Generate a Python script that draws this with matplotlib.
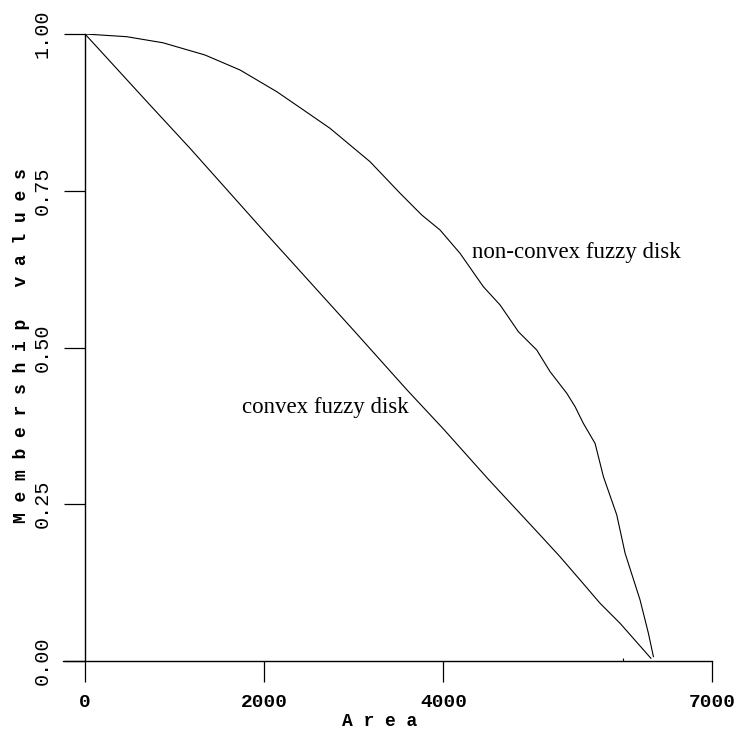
import matplotlib
matplotlib.use("Agg")
import matplotlib.pyplot as plt

# data
nonconvex_area = [0, 465, 870, 1339, 1730, 2140, 2436, 2734, 3181, 3516, 3758, 3962,
                  4185, 4445, 4632, 4836, 5041, 5190, 5376, 5469, 5561, 5692, 5785,
                  5934, 6027, 6194, 6287, 6343]
nonconvex_mu = [1.0, 0.9957, 0.986, 0.9665, 0.9426, 0.908, 0.879, 0.8496, 0.7963, 0.746,
                0.7113, 0.6874, 0.6502, 0.597, 0.5678, 0.5252, 0.4960, 0.4614, 0.427,
                0.4056, 0.379, 0.347, 0.294, 0.2329, 0.1718, 0.0973, 0.0442, 0.0069]

convex_area = [0, 725, 1172, 2000, 3000, 3594, 4000, 4500, 5078, 5301, 5525, 5748, 5971, 6315]
convex_mu = [1.0, 0.8868, 0.8177, 0.685, 0.527, 0.4322, 0.370, 0.290, 0.201, 0.1663,
             0.1292, 0.092, 0.0601, 0.0043]

x_ticks = [0, 2000, 4000, 7000]
x_ticklabels = ["0", "2000", "4000", "7000"]
y_ticks = [0.0, 0.25, 0.5, 0.75, 1.0]
y_ticklabels = ["0.00", "0.25", "0.50", "0.75", "1.00"]

label_nonconvex = "non-convex fuzzy disk"
label_convex = "convex fuzzy disk"

W, H = 737, 733
fig = plt.figure(figsize=(W / 100, H / 100), dpi=100)
ax = fig.add_axes([63.5 / W, 1 - 661 / H, (712.3 - 63.5) / W, (661 - 34) / H])

ax.plot(nonconvex_area, nonconvex_mu, color="black", lw=0.8)
ax.plot(convex_area, convex_mu, color="black", lw=0.8)

ax.set_xlim(-240, 7000)
ax.set_ylim(0, 1)

for s in ["top", "right"]:
    ax.spines[s].set_visible(False)
ax.spines["left"].set_position(("data", 0))
ax.spines["left"].set_linewidth(1.0)
ax.spines["bottom"].set_linewidth(1.0)

mono = "Liberation Mono"
ax.set_xticks(x_ticks)
ax.set_xticklabels(x_ticklabels, fontfamily=mono, fontweight="bold", fontsize=14)
ax.set_yticks(y_ticks)
ax.set_yticklabels(y_ticklabels, fontfamily=mono, fontsize=14.5, rotation=90, va="center")
ax.tick_params(axis="x", direction="out", length=15, width=0.9, pad=9)
ax.tick_params(axis="y", direction="out", length=15, width=0.9, pad=9)
ax.set_xticks([6000], minor=True)
ax.tick_params(axis="x", which="minor", direction="in", length=2, width=0.8)

ax.text(4319, 0.652, label_nonconvex, fontfamily="Liberation Serif", fontsize=16.5,
        ha="left", va="center")
ax.text(1752, 0.405, label_convex, fontfamily="Liberation Serif", fontsize=16.5,
        ha="left", va="center")

fig.text(380 / W, 1 - 722 / H, "A r e a", fontfamily=mono, fontweight="bold",
         fontsize=13, ha="center", va="center")
fig.text(22 / W, 1 - 346 / H, "M e m b e r s h i p   v a l u e s", fontfamily=mono,
         fontweight="bold", fontsize=13, rotation=90, ha="center", va="center")

fig.savefig("out.png", dpi=100)
